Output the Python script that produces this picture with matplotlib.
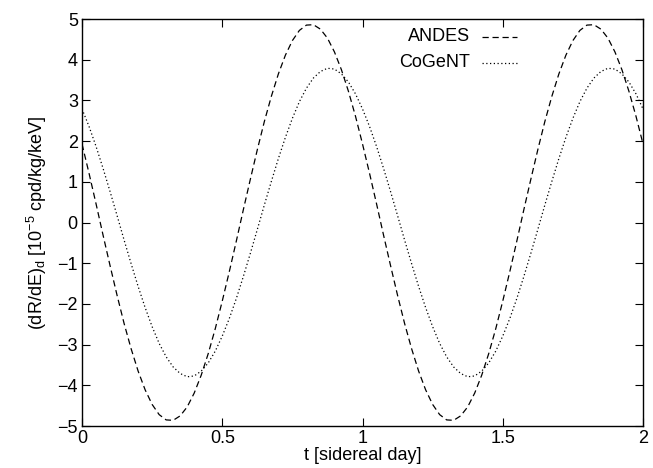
import matplotlib
matplotlib.use("Agg")
import matplotlib.pyplot as plt
import numpy as np

plt.rcParams['font.family'] = ['Liberation Sans', 'DejaVu Sans']
plt.rcParams['mathtext.default'] = 'regular'

# time in sidereal days, 0.025 step
t = np.arange(81) * 0.025

andes = [1.93, 1.21, 0.46, -0.31, -1.06, -1.79, -2.48, -3.10, -3.65, -4.11,
         -4.47, -4.72, -4.85, -4.86, -4.75, -4.53, -4.19, -3.75, -3.22, -2.61,
         -1.93, -1.21, -0.46, 0.31, 1.06, 1.79, 2.48, 3.10, 3.65, 4.11,
         4.47, 4.72, 4.85, 4.86, 4.75, 4.53, 4.19, 3.75, 3.22, 2.61,
         1.93, 1.21, 0.46, -0.31, -1.06, -1.79, -2.48, -3.10, -3.65, -4.11,
         -4.47, -4.72, -4.85, -4.86, -4.75, -4.53, -4.19, -3.75, -3.22, -2.61,
         -1.93, -1.21, -0.46, 0.31, 1.06, 1.79, 2.48, 3.10, 3.65, 4.11,
         4.47, 4.72, 4.85, 4.86, 4.75, 4.53, 4.19, 3.75, 3.22, 2.61,
         1.93]

cogent = [2.79, 2.36, 1.87, 1.33, 0.76, 0.17, -0.43, -1.01, -1.57, -2.09,
          -2.56, -2.97, -3.30, -3.55, -3.71, -3.79, -3.77, -3.65, -3.45, -3.16,
          -2.79, -2.36, -1.87, -1.33, -0.76, -0.17, 0.43, 1.01, 1.57, 2.09,
          2.56, 2.97, 3.30, 3.55, 3.71, 3.79, 3.77, 3.65, 3.45, 3.16,
          2.79, 2.36, 1.87, 1.33, 0.76, 0.17, -0.43, -1.01, -1.57, -2.09,
          -2.56, -2.97, -3.30, -3.55, -3.71, -3.79, -3.77, -3.65, -3.45, -3.16,
          -2.79, -2.36, -1.87, -1.33, -0.76, -0.17, 0.43, 1.01, 1.57, 2.09,
          2.56, 2.97, 3.30, 3.55, 3.71, 3.79, 3.77, 3.65, 3.45, 3.16,
          2.79]

xticks = [0, 0.5, 1, 1.5, 2]
xticklabels = ['0', '0.5', '1', '1.5', '2']
yticks = list(range(-5, 6))

dash_style = (0, (5, 3))
dot_style = (0, (1, 2))

fig = plt.figure(figsize=(6.53, 4.68), dpi=100)
ax = fig.add_axes([0.1256, 0.0897, 0.8591, 0.8697])

ax.plot(t, andes, color='black', lw=0.9, linestyle=dash_style)
ax.plot(t, cogent, color='black', lw=0.9, linestyle=dot_style)

ax.set_xlim(0, 2)
ax.set_ylim(-5, 5)
ax.set_xticks(xticks)
ax.set_xticklabels(xticklabels)
ax.set_yticks(yticks)
ax.tick_params(direction='in', length=6, width=0.8, top=True, right=True,
               labelsize=13, pad=3)
for s in ax.spines.values():
    s.set_linewidth(1.0)

ax.set_xlabel('t [sidereal day]', fontsize=13, labelpad=0)
ax.set_ylabel('(dR/dE)$_d$ [10$^{-5}$ cpd/kg/keV]', fontsize=13, labelpad=6)

# gnuplot-style key: text right-aligned, sample to the right
ax.text(0.692, 0.956, 'ANDES', transform=ax.transAxes, ha='right', va='center', fontsize=13)
ax.plot([0.713, 0.775], [0.956, 0.956], transform=ax.transAxes, color='black',
        lw=0.9, linestyle=dash_style)
ax.text(0.692, 0.892, 'CoGeNT', transform=ax.transAxes, ha='right', va='center', fontsize=13)
ax.plot([0.713, 0.775], [0.892, 0.892], transform=ax.transAxes, color='black',
        lw=0.9, linestyle=dot_style)

fig.savefig('out.png', dpi=100)
